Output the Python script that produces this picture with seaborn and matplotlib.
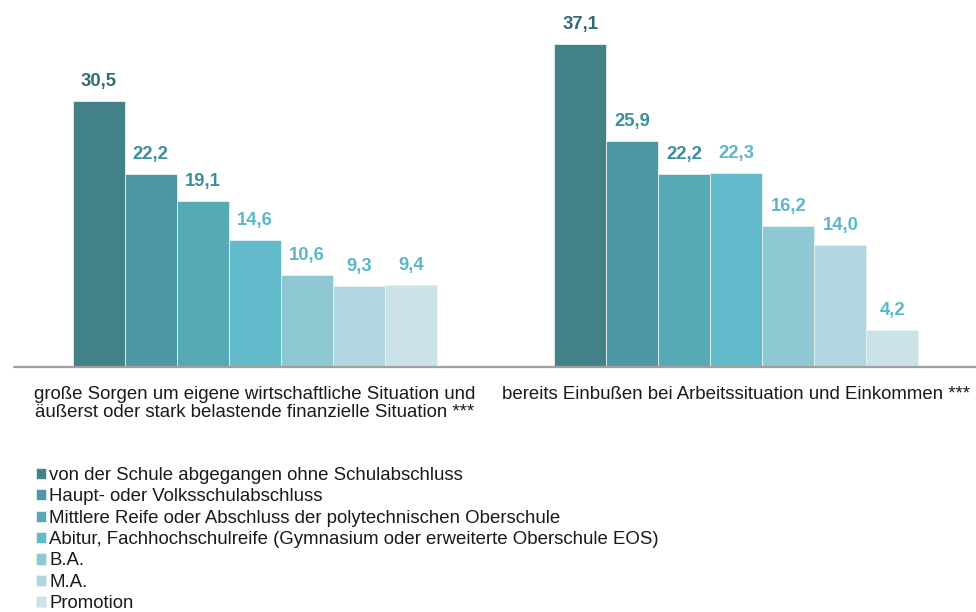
import matplotlib
matplotlib.use('Agg')
import matplotlib.pyplot as plt
import seaborn as sns
import pandas as pd

categories = [
    'große Sorgen um eigene wirtschaftliche Situation und\näußerst oder stark belastende finanzielle Situation ***',
    'bereits Einbußen bei Arbeitssituation und Einkommen ***',
]
education = [
    'von der Schule abgegangen ohne Schulabschluss',
    'Haupt- oder Volksschulabschluss',
    'Mittlere Reife oder Abschluss der polytechnischen Oberschule',
    'Abitur, Fachhochschulreife (Gymnasium oder erweiterte Oberschule EOS)',
    'B.A.',
    'M.A.',
    'Promotion',
]
sorgen = [30.5, 22.2, 19.1, 14.6, 10.6, 9.3, 9.4]
einbussen = [37.1, 25.9, 22.2, 22.3, 16.2, 14.0, 4.2]

bar_colors = ['#44828a', '#4e98a3', '#57a9b6', '#62bacb', '#8ec8d3', '#b0d6df', '#cbe3e8']
label_colors = ['#2e6b75', '#3a8f9c', '#3a8f9c', '#5bb7c8', '#5bb7c8', '#5bb7c8', '#5bb7c8']

rows = []
for edu, a, b in zip(education, sorgen, einbussen):
    rows.append({'kategorie': categories[0], 'abschluss': edu, 'wert': a})
    rows.append({'kategorie': categories[1], 'abschluss': edu, 'wert': b})
df = pd.DataFrame(rows)

sns.set_style('white')
plt.rcParams['font.family'] = ['Liberation Sans', 'DejaVu Sans']

fig = plt.figure(figsize=(9.76, 6.12), dpi=100)
ax = fig.add_axes([14 / 976, 1 - 367 / 612, 963 / 976, 348.4 / 612])

sns.barplot(data=df, x='kategorie', y='wert', hue='abschluss',
            order=categories, hue_order=education, palette=bar_colors,
            saturation=1, width=0.757, edgecolor='#e6f2f4', linewidth=0.6,
            ax=ax, legend=True)

for cont, col in zip(ax.containers, label_colors):
    ax.bar_label(cont, labels=[f'{v:.1f}'.replace('.', ',') for v in cont.datavalues],
                 padding=8, color=col, fontsize=13.3, fontweight='bold')

ax.set_xlim(-0.5, 1.5)
ax.set_ylim(0, 40)
ax.axhline(0, color='#a0a0a0', lw=1.6, clip_on=False)
sns.despine(ax=ax, left=True, bottom=True)
ax.set_yticks([])
ax.set_xlabel('')
ax.set_ylabel('')
ax.tick_params(axis='x', length=0, pad=14, labelsize=13.4, labelcolor='#1a1a1a')
for t in ax.get_xticklabels():
    t.set_linespacing(1.05)

handles, labels = ax.get_legend_handles_labels()
ax.get_legend().remove()
fig.legend(handles, labels, loc='upper left', bbox_to_anchor=(36 / 976, 1 - 467 / 612),
           frameon=False, fontsize=13.4, handlelength=0.55, handleheight=0.55,
           handletextpad=0.15, labelspacing=0.235, borderaxespad=0, borderpad=0,
           labelcolor='#1a1a1a')

fig.savefig('out.png', dpi=100)
